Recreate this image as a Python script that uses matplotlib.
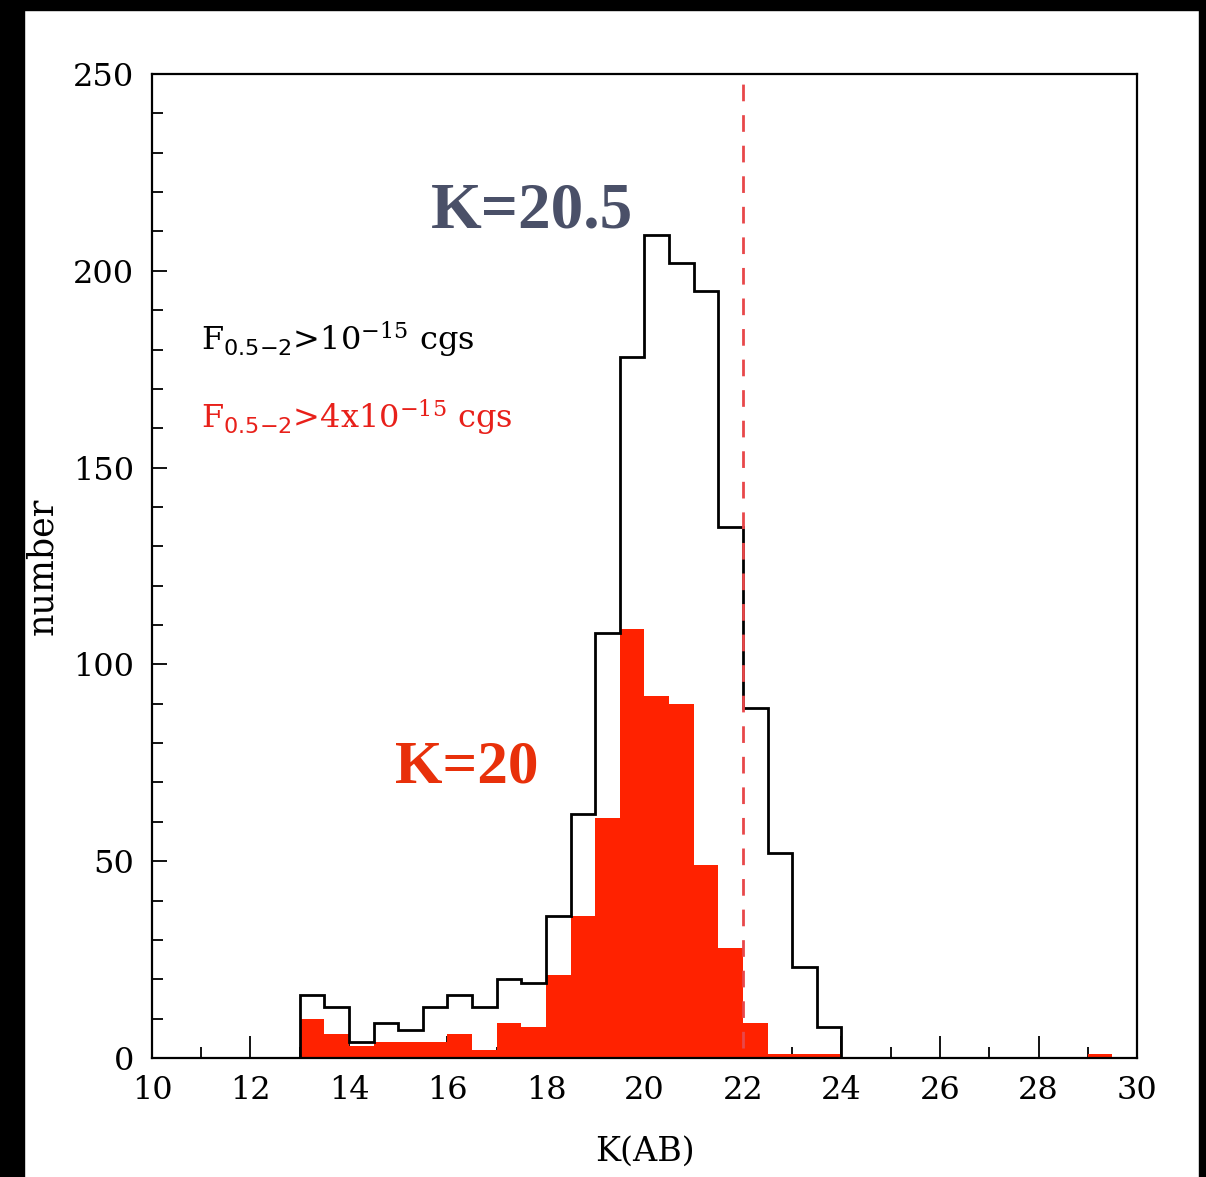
import matplotlib
matplotlib.use('Agg')
import numpy as np
import matplotlib.pyplot as plt
from matplotlib.patches import Rectangle

# bin edges in K(AB), 0.5 mag bins from 10 to 30
edges = np.arange(10, 30.01, 0.5)

# counts for F(0.5-2) > 1e-15 cgs  (bins 10.0-10.5 ... 29.5-30.0)
n_all = [0, 0, 0, 0, 0, 0,
         16, 13, 4, 9, 7, 13, 16, 13, 20, 19,
         36, 62, 108, 178, 209, 202, 195, 135,
         89, 52, 23, 8,
         0, 0, 0, 0, 0, 0, 0, 0, 0, 0, 0, 0]

# counts for F(0.5-2) > 4e-15 cgs
n_bright = [0, 0, 0, 0, 0, 0,
            10, 6, 3, 4, 4, 4, 6, 2, 9, 8,
            21, 36, 61, 109, 92, 90, 49, 28,
            9, 1, 1, 1,
            0, 0, 0, 0, 0, 0, 0, 0, 0, 0, 1, 0]

k_limit = 22.0

plt.rcParams['font.family'] = 'DejaVu Serif'
plt.rcParams['mathtext.fontset'] = 'dejavuserif'

fig = plt.figure(figsize=(12.06, 11.77), dpi=100)
ax = fig.add_axes([0.126, 0.1011, 0.8168, 0.836])

red = '#ff2200'
ax.stairs(n_bright, edges, fill=True, color=red, zorder=2)
ax.stairs(n_all, edges, color='black', linewidth=2.0, zorder=3)
ax.axvline(k_limit, ymin=0.01, ymax=0.99, color='#e8474a', linewidth=2.0,
           dashes=(6, 5), zorder=4)

ax.set_xlim(10, 30)
ax.set_ylim(0, 250)
ax.set_xticks(np.arange(10, 31, 2))
ax.set_xticks(np.arange(10, 31, 1), minor=True)
ax.set_yticks(np.arange(0, 251, 50))
ax.set_yticks(np.arange(0, 251, 10), minor=True)
ax.tick_params(axis='both', which='both', direction='in', labelsize=23,
               width=1.3, top=False, right=False)
ax.tick_params(axis='x', which='major', length=16, pad=12)
ax.tick_params(axis='x', which='minor', length=8)
ax.tick_params(axis='y', which='major', length=11, pad=13)
ax.tick_params(axis='y', which='minor', length=8)
for s in ax.spines.values():
    s.set_linewidth(1.6)

ax.set_xlabel('K(AB)', fontsize=24, labelpad=22)
ax.set_ylabel('number', fontsize=25, labelpad=10)

ax.text(0.05, 0.73, r'F$_{\mathsf{0.5{-}2}}$>10$^{-15}$ cgs', transform=ax.transAxes,
        fontsize=23, color='black', va='center')
ax.text(0.05, 0.65, r'F$_{\mathsf{0.5{-}2}}$>4x10$^{-15}$ cgs', transform=ax.transAxes,
        fontsize=23, color='#e8201a', va='center')

ax.text(0.386, 0.86, 'K=20.5', transform=ax.transAxes, fontsize=47,
        family='Liberation Serif', weight='bold', color='#4a5068',
        ha='center', va='center')
ax.text(0.320, 0.295, 'K=20', transform=ax.transAxes, fontsize=44,
        family='Liberation Serif', weight='bold', color='#e8300a',
        ha='center', va='center')

# black frame strips around the picture
fig.patches.append(Rectangle((0, 1 - 10 / 1177), 1, 10 / 1177, transform=fig.transFigure,
                             color='black', zorder=10))
fig.patches.append(Rectangle((0, 0), 24 / 1206, 1, transform=fig.transFigure,
                             color='black', zorder=10))
fig.patches.append(Rectangle((1 - 7 / 1206, 0), 7 / 1206, 1, transform=fig.transFigure,
                             color='black', zorder=10))

plt.savefig('out.png', dpi=100)
